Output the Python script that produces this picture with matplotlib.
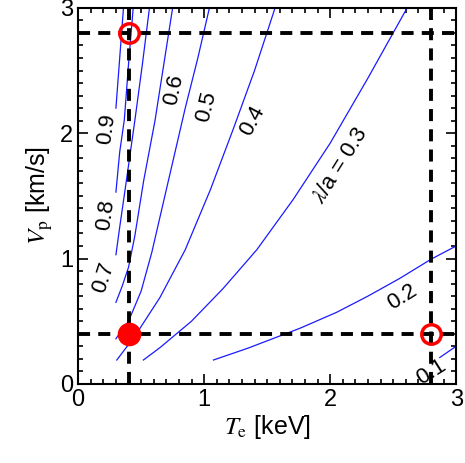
import matplotlib
matplotlib.use('Agg')
import matplotlib.pyplot as plt
from matplotlib.ticker import MultipleLocator

plt.rcParams['font.family'] = ['Liberation Sans', 'DejaVu Sans']
plt.rcParams['mathtext.fontset'] = 'stix'

# контуры lambda/a: точки (Te, Vp)
levels = ['0.9', '0.8', '0.7', '0.6', '0.5', '0.4', '0.3', '0.2', '0.1']
te_09 = [0.30, 0.33, 0.36]
vp_09 = [2.20, 2.60, 3.00]
te_08 = [0.30, 0.33, 0.367, 0.40, 0.437]
vp_08 = [1.53, 1.85, 2.11, 2.55, 3.00]
te_07 = [0.30, 0.33, 0.38, 0.45, 0.51, 0.566]
vp_07 = [1.03, 1.25, 1.60, 2.10, 2.55, 3.00]
te_06 = [0.30, 0.35, 0.40, 0.45, 0.52, 0.61, 0.68, 0.75]
vp_06 = [0.65, 0.78, 0.93, 1.18, 1.62, 2.10, 2.55, 3.00]
te_05 = [0.30, 0.40, 0.50, 0.585, 0.70, 0.85, 0.95, 1.042]
vp_05 = [0.36, 0.50, 0.74, 1.05, 1.55, 2.20, 2.60, 3.00]
te_04 = [0.307, 0.45, 0.65, 0.85, 1.05, 1.23, 1.40, 1.563]
vp_04 = [0.19, 0.38, 0.69, 1.07, 1.55, 2.03, 2.50, 3.00]
te_03 = [0.518, 0.651, 0.90, 1.15, 1.418, 1.706, 2.00, 2.30, 2.611]
vp_03 = [0.19, 0.29, 0.50, 0.76, 1.07, 1.47, 1.92, 2.44, 3.00]
te_02 = [1.074, 1.349, 1.762, 2.05, 2.30, 2.55, 2.802, 3.00]
vp_02 = [0.19, 0.285, 0.444, 0.57, 0.70, 0.84, 0.995, 1.10]
te_01 = [2.87, 3.00]
vp_01 = [0.21, 0.30]

# выбранные точки
te_mark = [0.4, 0.4, 2.8]
vp_mark = [0.4, 2.8, 0.4]
te_cut = [0.4, 2.8]
vp_cut = [0.4, 2.8]

fig = plt.figure(figsize=(4.65, 4.63), dpi=100)
ax = fig.add_axes([0.168, 0.171, 0.813, 0.812])

lines = [(te_09, vp_09), (te_08, vp_08), (te_07, vp_07), (te_06, vp_06),
         (te_05, vp_05), (te_04, vp_04), (te_03, vp_03), (te_02, vp_02),
         (te_01, vp_01)]
for te, vp in lines:
    ax.plot(te, vp, color='#1a1aff', lw=0.9)

# подписи уровней (x, y, угол)
lab_pos = [(0.23, 2.03, 82), (0.22, 1.35, 82), (0.20, 0.85, 72),
           (0.76, 2.35, 78), (1.02, 2.21, 76), (1.38, 2.10, 62),
           (2.08, 1.74, 58), (2.57, 0.69, 32), (2.80, 0.09, 32)]
lab_txt = ['0.9', '0.8', '0.7', '0.6', '0.5', '0.4', r'$\lambda$/a = 0.3', '0.2', '0.1']
for (x, y, r), t in zip(lab_pos, lab_txt):
    ax.text(x, y, t, rotation=r, fontsize=16, ha='center', va='center')

for v in te_cut:
    ax.axvline(v, color='k', lw=2.8, ls=(0, (3.1, 2.1)))
for v in vp_cut:
    ax.axhline(v, color='k', lw=2.8, ls=(0, (3.1, 2.1)))

ax.plot(te_mark[:1], vp_mark[:1], 'o', color='red', ms=16, zorder=5)
ax.plot(te_mark[1:], vp_mark[1:], 'o', mfc='none', mec='red', mew=2.5, ms=14, zorder=5)

ax.set_xlim(0, 3)
ax.set_ylim(0, 3)
ax.xaxis.set_major_locator(MultipleLocator(1))
ax.yaxis.set_major_locator(MultipleLocator(1))
ax.xaxis.set_minor_locator(MultipleLocator(0.1))
ax.yaxis.set_minor_locator(MultipleLocator(0.1))
ax.tick_params(which='both', direction='in', top=True, right=True, labelsize=17, width=1.2)
ax.tick_params(which='major', length=7)
ax.tick_params(which='minor', length=3.5)
for s in ax.spines.values():
    s.set_linewidth(1.5)

ax.set_xlabel(r'$T_{\rm e}$ [keV]', fontsize=18, labelpad=2)
ax.set_ylabel(r'$V_{\rm p}$ [km/s]', fontsize=18, labelpad=4)

fig.savefig('out.png', dpi=100)
